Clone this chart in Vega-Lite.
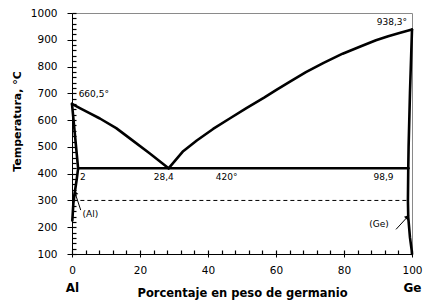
{
  "$schema": "https://vega.github.io/schema/vega-lite/v6.json",
  "width": 340,
  "height": 241,
  "autosize": {"type": "none"},
  "padding": {"left": 72, "top": 13, "right": 20, "bottom": 53},
  "background": "white",
  "config": {
    "view": {"stroke": "#8a8a8a", "strokeWidth": 1},
    "axis": {"grid": false, "domainColor": "#000", "tickColor": "#000", "labelColor": "#000", "titleColor": "#000", "labelFont": "DejaVu Sans", "titleFont": "DejaVu Sans", "domainWidth": 1, "tickWidth": 1}
  },
  "datasets": {
    "curves": [
      {"seg": "liqL", "ord": 1, "x": 0, "y": 660.5},
      {"seg": "liqL", "ord": 2, "x": 2.3, "y": 645},
      {"seg": "liqL", "ord": 3, "x": 5, "y": 627},
      {"seg": "liqL", "ord": 4, "x": 8.2, "y": 606},
      {"seg": "liqL", "ord": 5, "x": 13, "y": 570},
      {"seg": "liqL", "ord": 6, "x": 17.1, "y": 531},
      {"seg": "liqL", "ord": 7, "x": 22.9, "y": 475},
      {"seg": "liqL", "ord": 8, "x": 28.4, "y": 420},
      {"seg": "liqR", "ord": 1, "x": 28.4, "y": 420},
      {"seg": "liqR", "ord": 2, "x": 32.7, "y": 484},
      {"seg": "liqR", "ord": 3, "x": 36.7, "y": 524},
      {"seg": "liqR", "ord": 4, "x": 41.5, "y": 567},
      {"seg": "liqR", "ord": 5, "x": 46.5, "y": 607},
      {"seg": "liqR", "ord": 6, "x": 51.3, "y": 645},
      {"seg": "liqR", "ord": 7, "x": 56.5, "y": 684},
      {"seg": "liqR", "ord": 8, "x": 60, "y": 712},
      {"seg": "liqR", "ord": 9, "x": 64, "y": 743},
      {"seg": "liqR", "ord": 10, "x": 68.8, "y": 779},
      {"seg": "liqR", "ord": 11, "x": 74, "y": 814},
      {"seg": "liqR", "ord": 12, "x": 79.6, "y": 848},
      {"seg": "liqR", "ord": 13, "x": 85, "y": 876},
      {"seg": "liqR", "ord": 14, "x": 89.4, "y": 898},
      {"seg": "liqR", "ord": 15, "x": 93, "y": 913},
      {"seg": "liqR", "ord": 16, "x": 96.3, "y": 925},
      {"seg": "liqR", "ord": 17, "x": 100, "y": 938.3},
      {"seg": "solL", "ord": 1, "x": 0, "y": 660.5},
      {"seg": "solL", "ord": 2, "x": 0.6, "y": 580},
      {"seg": "solL", "ord": 3, "x": 1.2, "y": 500},
      {"seg": "solL", "ord": 4, "x": 1.8, "y": 420},
      {"seg": "solvL", "ord": 1, "x": 1.8, "y": 420},
      {"seg": "solvL", "ord": 2, "x": 1.4, "y": 380},
      {"seg": "solvL", "ord": 3, "x": 0.9, "y": 337},
      {"seg": "solvL", "ord": 4, "x": 0.4, "y": 289},
      {"seg": "solvL", "ord": 5, "x": 0.1, "y": 225},
      {"seg": "eut", "ord": 1, "x": 1.8, "y": 420},
      {"seg": "eut", "ord": 2, "x": 98.9, "y": 420},
      {"seg": "solGe", "ord": 1, "x": 100, "y": 938.3},
      {"seg": "solGe", "ord": 2, "x": 99.4, "y": 700},
      {"seg": "solGe", "ord": 3, "x": 99, "y": 500},
      {"seg": "solGe", "ord": 4, "x": 98.9, "y": 420},
      {"seg": "solvGe", "ord": 1, "x": 98.9, "y": 420},
      {"seg": "solvGe", "ord": 2, "x": 98.8, "y": 300},
      {"seg": "solvGe", "ord": 3, "x": 98.9, "y": 237},
      {"seg": "solvGe", "ord": 4, "x": 99.4, "y": 162},
      {"seg": "solvGe", "ord": 5, "x": 99.9, "y": 115},
      {"seg": "solvGe", "ord": 6, "x": 100, "y": 100}
    ],
    "dashed": [
      {"x": 0.4, "y": 300},
      {"x": 98.5, "y": 300}
    ],
    "labels": [
      {"x": 6.4, "y": 698, "label": "660,5°"},
      {"x": 94.1, "y": 966, "label": "938,3°"},
      {"x": 3.2, "y": 387, "label": "2"},
      {"x": 27, "y": 387, "label": "28,4"},
      {"x": 45.5, "y": 387, "label": "420°"},
      {"x": 91.6, "y": 387, "label": "98,9"},
      {"x": 5.4, "y": 249, "label": "(Al)"},
      {"x": 90.3, "y": 212, "label": "(Ge)"}
    ],
    "arrows": [
      {"id": "Al", "x": 2.56, "y": 264, "x2": 0.88, "y2": 329},
      {"id": "Ge", "x": 95.3, "y": 192, "x2": 98.7, "y2": 239}
    ]
  },
  "resolve": {"axis": {"x": "independent", "y": "independent"}},
  "layer": [
    {
      "data": {"name": "curves"},
      "mark": {"type": "line", "color": "#000", "strokeWidth": 2.6, "strokeJoin": "round", "strokeCap": "round"},
      "encoding": {
        "x": {"field": "x", "type": "quantitative", "scale": {"domain": [0, 100], "nice": false, "zero": false},
          "axis": {"orient": "bottom", "values": [0, 20, 40, 60, 80, 100], "format": "d", "tickSize": 3, "labelFontSize": 10.5, "labelPadding": 8, "labelFlush": false,
            "title": "Porcentaje en peso de germanio", "titleFontSize": 11.5, "titleFontWeight": "bold", "titlePadding": 12}},
        "y": {"field": "y", "type": "quantitative", "scale": {"domain": [100, 1000], "nice": false, "zero": false},
          "axis": {"orient": "left", "values": [100, 200, 300, 400, 500, 600, 700, 800, 900, 1000], "format": "d", "tickSize": 5, "labelFontSize": 10.5, "labelPadding": 10, "labelFlush": false,
            "title": "Temperatura, °C", "titleFontSize": 11, "titleFontWeight": "bold", "titlePadding": 8, "titleY": 108}},
        "detail": {"field": "seg"},
        "order": {"field": "ord", "type": "quantitative"}
      }
    },
    {
      "data": {"name": "dashed"},
      "mark": {"type": "line", "color": "#000", "strokeWidth": 1, "strokeDash": [4, 3]},
      "encoding": {
        "x": {"field": "x", "type": "quantitative", "scale": {"domain": [0, 100], "nice": false, "zero": false},
          "axis": {"orient": "bottom", "offset": -4, "values": [0, 4, 8, 12, 16, 20, 24, 28, 32, 36, 40, 44, 48, 52, 56, 60, 64, 68, 72, 76, 80, 84, 88, 92, 96, 100], "tickSize": 4, "tickWidth": 1.2, "labels": false, "domain": false, "title": null}},
        "y": {"field": "y", "type": "quantitative", "scale": {"domain": [100, 1000], "nice": false, "zero": false},
          "axis": {"orient": "left", "offset": -4, "values": [100, 120, 140, 160, 180, 200, 220, 240, 260, 280, 300, 320, 340, 360, 380, 400, 420, 440, 460, 480, 500, 520, 540, 560, 580, 600, 620, 640, 660, 680, 700, 720, 740, 760, 780, 800, 820, 840, 860, 880, 900, 920, 940, 960, 980, 1000], "tickSize": 4, "tickWidth": 1.2, "labels": false, "domain": false, "title": null}}
      }
    },
    {
      "data": {"name": "labels"},
      "mark": {"type": "text", "font": "DejaVu Sans", "fontSize": 9, "color": "#000", "align": "center", "baseline": "middle"},
      "encoding": {
        "x": {"field": "x", "type": "quantitative", "scale": {"domain": [0, 100], "nice": false, "zero": false},
          "axis": {"orient": "bottom", "values": [0, 100], "labelExpr": "datum.value == 0 ? 'Al' : 'Ge'", "ticks": false, "tickSize": 0, "domain": false, "labelFontSize": 12, "labelFontWeight": "bold", "labelPadding": 28, "labelFlush": false, "title": null}},
        "y": {"field": "y", "type": "quantitative", "scale": {"domain": [100, 1000], "nice": false, "zero": false}, "axis": null},
        "text": {"field": "label"}
      }
    },
    {
      "data": {"name": "arrows"},
      "mark": {"type": "rule", "color": "#000", "strokeWidth": 1},
      "encoding": {
        "x": {"field": "x", "type": "quantitative", "scale": {"domain": [0, 100], "nice": false, "zero": false}, "axis": null},
        "y": {"field": "y", "type": "quantitative", "scale": {"domain": [100, 1000], "nice": false, "zero": false}, "axis": null},
        "x2": {"field": "x2"},
        "y2": {"field": "y2"}
      }
    },
    {
      "data": {"name": "arrows"},
      "transform": [{"filter": "datum.id == 'Al'"}],
      "mark": {"type": "point", "shape": "triangle-up", "filled": true, "color": "#000", "size": 30, "angle": 342, "opacity": 1},
      "encoding": {
        "x": {"field": "x2", "type": "quantitative", "scale": {"domain": [0, 100], "nice": false, "zero": false}, "axis": null},
        "y": {"field": "y2", "type": "quantitative", "scale": {"domain": [100, 1000], "nice": false, "zero": false}, "axis": null}
      }
    },
    {
      "data": {"name": "arrows"},
      "transform": [{"filter": "datum.id == 'Ge'"}],
      "mark": {"type": "point", "shape": "triangle-up", "filled": true, "color": "#000", "size": 30, "angle": 43, "opacity": 1},
      "encoding": {
        "x": {"field": "x2", "type": "quantitative", "scale": {"domain": [0, 100], "nice": false, "zero": false}, "axis": null},
        "y": {"field": "y2", "type": "quantitative", "scale": {"domain": [100, 1000], "nice": false, "zero": false}, "axis": null}
      }
    }
  ]
}
